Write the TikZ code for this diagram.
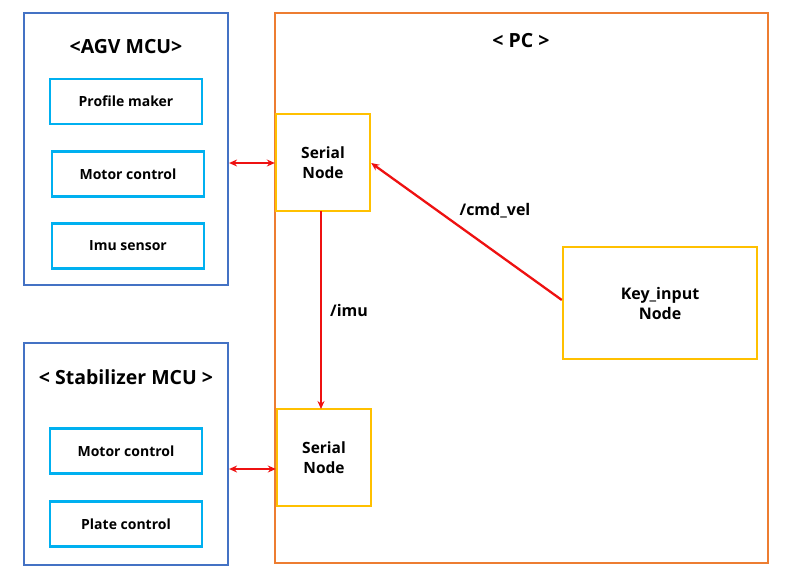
\documentclass[tikz,border=0pt]{standalone}
\usepackage{fontspec}
\setmainfont{Open Sans}
\usetikzlibrary{arrows.meta}
\definecolor{outerblue}{HTML}{4472C4}
\definecolor{innercyan}{HTML}{00B0F0}
\definecolor{pcorange}{HTML}{ED7D31}
\definecolor{nodeyellow}{HTML}{FFC000}
\definecolor{arrowred}{HTML}{EE1111}
\begin{document}
\begin{tikzpicture}[x=1pt,y=-1pt,
  mcubox/.style={draw=outerblue,line width=2.2pt,minimum width=204pt,inner sep=0pt},
  innerbox/.style={draw=innercyan,line width=2.2pt,minimum width=152pt,minimum height=45pt,inner sep=0pt,font=\bfseries\fontsize{14}{16}\selectfont},
  pcbox/.style={draw=pcorange,line width=2.2pt,inner sep=0pt},
  rosnode/.style={draw=nodeyellow,line width=2.4pt,inner sep=0pt,align=center,font=\bfseries\fontsize{15.5}{20}\selectfont},
  titletext/.style={font=\bfseries\fontsize{19.5}{22}\selectfont,inner sep=0pt},
  msg/.style={font=\bfseries\fontsize{16}{18}\selectfont,inner sep=0pt},
  conn/.style={draw=arrowred,line width=2.3pt,-{Stealth[length=8pt,width=7pt]}},
  biconn/.style={draw=arrowred,line width=2.3pt,{Stealth[length=8pt,width=7pt]}-{Stealth[length=8pt,width=7pt]}}
]
\useasboundingbox (0,0) rectangle (786,581);
% outer boxes
\node[mcubox,minimum height=272pt] (agv) at (126,149) {};
\node[mcubox,minimum height=222pt] (stab) at (126,454) {};
\node[pcbox,minimum width=493pt,minimum height=550pt] (pc) at (521.5,288) {};
% titles
\node[titletext] (agvtitle) at (126,47) {<AGV MCU>};
\node[titletext] (stabtitle) at (126,377) {<\ Stabilizer MCU\ >};
\node[titletext] (pctitle) at (521,41) {<\ PC\ >};
% inner boxes
\node[innerbox] (profile) at (126,101.5) {Profile maker};
\node[innerbox] (motor1) at (128,174) {Motor control};
\node[innerbox] (imu) at (128,246) {Imu sensor};
\node[innerbox] (motor2) at (126,451) {Motor control};
\node[innerbox] (plate) at (126,524) {Plate control};
% ros nodes
\node[rosnode,minimum width=94pt,minimum height=97pt] (serial1) at (323,162.5) {Serial\\Node};
\node[rosnode,minimum width=94pt,minimum height=97pt] (serial2) at (324,457.5) {Serial\\Node};
\node[rosnode,minimum width=194pt,minimum height=112pt,font=\bfseries\fontsize{16}{20}\selectfont] (key) at (660,303) {Key\_input\\Node};
% connectors
\coordinate (agvport) at (agv.east |- 0,163);
\coordinate (s1port) at (serial1.west |- 0,163);
\draw[biconn] (agvport) -- (s1port);
\coordinate (stabport) at (stab.east |- 0,469);
\coordinate (s2port) at (serial2.west |- 0,469);
\draw[biconn] (stabport) -- (s2port);
\coordinate (s1bottom) at (321,211);
\coordinate (s2top) at (321,409);
\draw[conn] (s1bottom) -- node[msg,right=8pt] (imulabel) {/imu} (s2top);
\coordinate (keyport) at (key.west |- 0,300);
\coordinate (s1side) at (serial1.east |- 0,163);
\draw[conn] (keyport) -- (s1side);
\node[msg] (cmdlabel) at (495,211) {/cmd\_vel};
\end{tikzpicture}
\end{document}
